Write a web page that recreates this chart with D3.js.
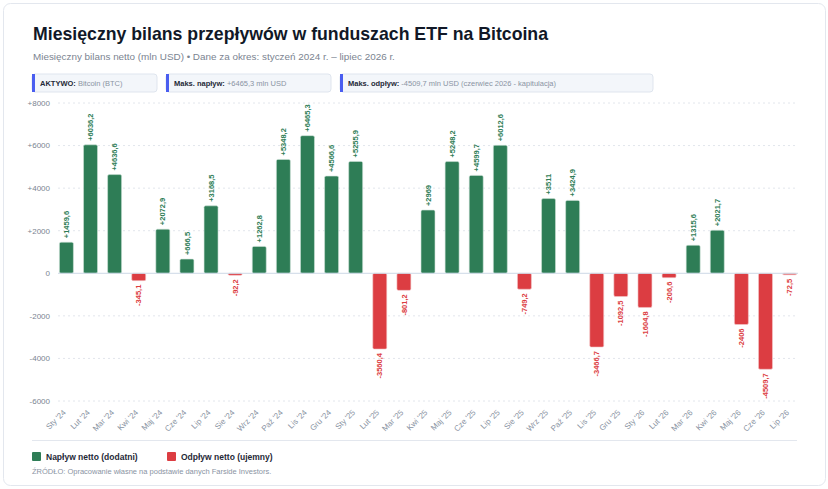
<!DOCTYPE html>
<html>
<head>
<meta charset="utf-8">
<script src="https://cdn.jsdelivr.net/npm/d3@7"></script>
<style>
  body { margin: 0; background: #fff; font-family: "Liberation Sans", Arial, sans-serif; }
</style>
</head>
<body>
<div id="chart"></div>
<script>
// dane: miesięczny bilans netto (mln USD)
const months = ["Sty '24","Lut '24","Mar '24","Kwi '24","Maj '24","Cze '24","Lip '24","Sie '24","Wrz '24","Paź '24","Lis '24","Gru '24",
  "Sty '25","Lut '25","Mar '25","Kwi '25","Maj '25","Cze '25","Lip '25","Sie '25","Wrz '25","Paź '25","Lis '25","Gru '25",
  "Sty '26","Lut '26","Mar '26","Kwi '26","Maj '26","Cze '26","Lip '26"];
const flows = [1459.6, 6036.2, 4636.6, -345.1, 2072.9, 666.5, 3168.5, -92.2, 1262.8, 5348.2, 6465.3, 4566.6,
  5255.9, -3560.4, -801.2, 2969, 5248.2, 4599.7, 6012.6, -749.2, 3511, 3424.9, -3466.7, -1092.5,
  -1604.8, -206.6, 1315.6, 2021.7, -2406, -4509.7, -72.5];
const yTicks = [-6000, -4000, -2000, 0, 2000, 4000, 6000, 8000];
const infoBoxes = [
  {label: "AKTYWO:", text: "Bitcoin (BTC)"},
  {label: "Maks. napływ:", text: "+6465,3 mln USD"},
  {label: "Maks. odpływ:", text: "-4509,7 mln USD (czerwiec 2026 - kapitulacja)"}
];
const legendItems = [
  {label: "Napływ netto (dodatni)", color: "#2e7d56"},
  {label: "Odpływ netto (ujemny)", color: "#dc3d42"}
];

const W = 828, H = 489;
const green = "#2e7d56", red = "#dc3d42";
const fmt = v => (v > 0 ? "+" : "") + String(v).replace(".", ",");

const svg = d3.select("#chart").append("svg")
  .attr("width", W).attr("height", H);

// karta
svg.append("rect")
  .attr("x", 3.5).attr("y", 3.5).attr("width", 822).attr("height", 482)
  .attr("rx", 7).attr("fill", "#fff").attr("stroke", "#e3e7ee");

svg.append("text")
  .attr("x", 33).attr("y", 40)
  .attr("font-size", 17.7).attr("font-weight", "bold").attr("fill", "#111827")
  .text("Miesięczny bilans przepływów w funduszach ETF na Bitcoina");

svg.append("text")
  .attr("x", 33).attr("y", 60)
  .attr("font-size", 9.9).attr("fill", "#7b8491")
  .text("Miesięczny bilans netto (mln USD) • Dane za okres: styczeń 2024 r. – lipiec 2026 r.");

// boksy informacyjne
const boxX = [32, 166, 340], boxW = [125, 165, 313];
const box = svg.selectAll(".info").data(infoBoxes).enter().append("g")
  .attr("class", "info")
  .attr("transform", (d, i) => `translate(${boxX[i]},74)`);
box.append("rect")
  .attr("width", (d, i) => boxW[i]).attr("height", 18).attr("rx", 3)
  .attr("fill", "#f3f6fa").attr("stroke", "#dfe5ee");
box.append("rect")
  .attr("width", 3).attr("height", 18).attr("fill", "#4a5ef0");
const bt = box.append("text").attr("x", 8).attr("y", 12.3).attr("font-size", 7.5);
bt.append("tspan").attr("font-weight", "bold").attr("fill", "#1f2937").text(d => d.label);
bt.append("tspan").attr("fill", "#8a94a3").text(d => " " + d.text);

// skale
const x = d3.scaleBand().domain(months).range([57, 799]).paddingInner(0.42).paddingOuter(0.1);
const y = d3.scaleLinear().domain([-6000, 8000]).range([401, 103]);

// siatka
svg.append("g").selectAll("line").data(yTicks.filter(t => t !== 0)).enter().append("line")
  .attr("x1", 58).attr("x2", 798)
  .attr("y1", d => y(d)).attr("y2", d => y(d))
  .attr("stroke", "#e2e6ec").attr("stroke-dasharray", "2,3");

svg.append("g").selectAll("text").data(yTicks).enter().append("text")
  .attr("x", 50).attr("y", d => y(d)).attr("dy", "0.35em")
  .attr("text-anchor", "end").attr("font-size", 8).attr("fill", "#7b8491")
  .text(d => d > 0 ? "+" + d : d);

// słupki
svg.append("g").selectAll("rect").data(flows).enter().append("rect")
  .attr("x", (d, i) => x(months[i]))
  .attr("y", d => y(Math.max(0, d)))
  .attr("width", x.bandwidth())
  .attr("height", d => Math.abs(y(d) - y(0)))
  .attr("rx", 1.5)
  .attr("fill", d => d >= 0 ? green : red)
  .attr("stroke", d => d >= 0 ? "#cfe3d8" : "#f3c9cb").attr("stroke-width", 0.6);

// linia zera
svg.append("line")
  .attr("x1", 58).attr("x2", 798).attr("y1", y(0)).attr("y2", y(0))
  .attr("stroke", "#cdd8e6").attr("stroke-width", 1);

// etykiety wartości
svg.append("g").selectAll("text").data(flows).enter().append("text")
  .attr("transform", (d, i) => {
    const cx = x(months[i]) + x.bandwidth() / 2;
    const yy = d >= 0 ? y(d) - 4 : y(d) + 4;
    return `translate(${cx},${yy}) rotate(-90)`;
  })
  .attr("dy", "0.35em")
  .attr("text-anchor", d => d >= 0 ? "start" : "end")
  .attr("font-size", 7.5).attr("font-weight", "bold")
  .attr("fill", d => d >= 0 ? green : red)
  .text(fmt);

// etykiety osi X
svg.append("g").selectAll("text").data(months).enter().append("text")
  .attr("transform", d => `translate(${x(d) + x.bandwidth() / 2 - 2},${411}) rotate(-45)`)
  .attr("text-anchor", "end").attr("dy", "0.35em")
  .attr("font-size", 8).attr("fill", "#8a94a3")
  .text(d => d);

// separator
svg.append("line")
  .attr("x1", 32).attr("x2", 797).attr("y1", 440.5).attr("y2", 440.5)
  .attr("stroke", "#e3e7ee");

// legenda
const lg = svg.selectAll(".lg").data(legendItems).enter().append("g")
  .attr("class", "lg")
  .attr("transform", (d, i) => `translate(${i === 0 ? 32 : 167},452)`);
lg.append("rect").attr("width", 9).attr("height", 9).attr("rx", 1).attr("fill", d => d.color);
lg.append("text").attr("x", 14).attr("y", 7.8)
  .attr("font-size", 8.5).attr("font-weight", "bold").attr("fill", "#1f2937")
  .text(d => d.label);

svg.append("text")
  .attr("x", 32).attr("y", 474)
  .attr("font-size", 7.5).attr("fill", "#8a94a3")
  .text("ŹRÓDŁO: Opracowanie własne na podstawie danych Farside Investors.");
</script>
</body>
</html>
